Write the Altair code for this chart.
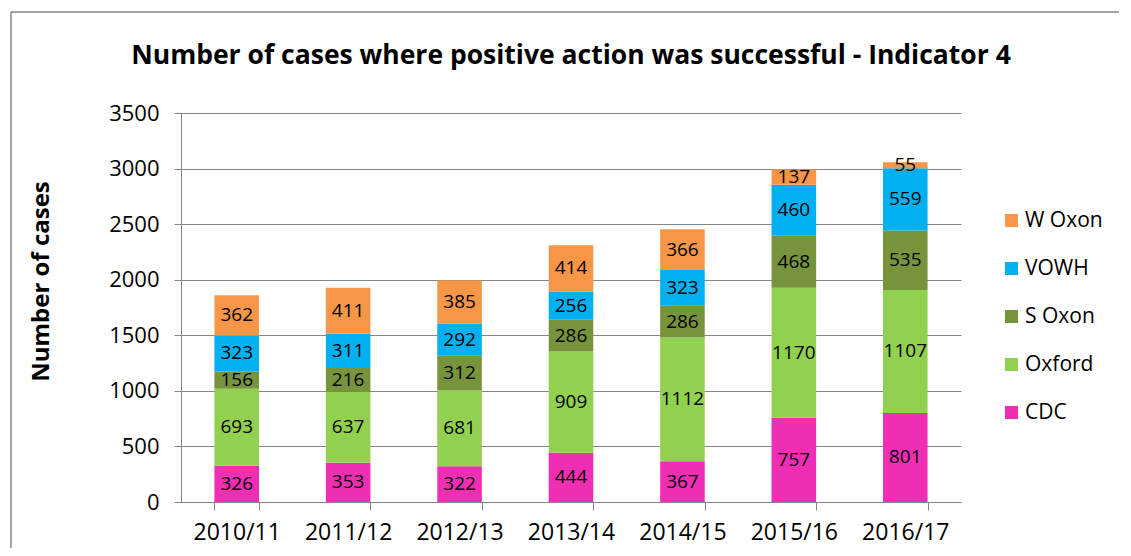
import altair as alt
import pandas as pd

years = ["2010/11", "2011/12", "2012/13", "2013/14", "2014/15", "2015/16", "2016/17"]
series = ["CDC", "Oxford", "S Oxon", "VOWH", "W Oxon"]
cdc = [326, 353, 322, 444, 367, 757, 801]
oxford = [693, 637, 681, 909, 1112, 1170, 1107]
s_oxon = [156, 216, 312, 286, 286, 468, 535]
vowh = [323, 311, 292, 256, 323, 460, 559]
w_oxon = [362, 411, 385, 414, 366, 137, 55]
colors = ["#F02EB4", "#92D050", "#77933C", "#00B0F0", "#F79646"]

vals = [cdc, oxford, s_oxon, vowh, w_oxon]
rows = []
for si, (s, v) in enumerate(zip(series, vals)):
    for y, n in zip(years, v):
        rows.append({"year": y, "series": s, "value": n, "order": si})
df = pd.DataFrame(rows)

FONT = "Open Sans"
GRAY = "#868686"

base = alt.Chart(df).transform_stack(
    stack="value", groupby=["year"], as_=["y0", "y1"],
    sort=[alt.SortField("order", order="ascending")]
).transform_calculate(mid="(datum.y0 + datum.y1) / 2")

x_enc = alt.X("year:N", sort=years, title=None,
              scale=alt.Scale(paddingInner=0.6, paddingOuter=0.3),
              axis=alt.Axis(labelAngle=0, labelFontSize=23, labelColor="#000000",
                            labelFont=FONT, tickBand="extent", tickSize=8,
                            tickColor=GRAY, domainColor=GRAY,
                            labelPadding=11, grid=False))

bars = base.mark_bar().encode(
    x=x_enc,
    y=alt.Y("y0:Q", title="Number of cases",
            scale=alt.Scale(domain=[0, 3500]),
            axis=alt.Axis(values=list(range(0, 3501, 500)), format="d",
                          labelFontSize=22, labelFont=FONT, labelColor="#000000",
                          tickSize=7, tickColor=GRAY, domainColor=GRAY,
                          gridColor=GRAY, labelPadding=15,
                          titleFont=FONT, titleFontSize=24, titleFontWeight="bold",
                          titleColor="#000000", titleX=-140, titleY=168,
                          titleAngle=270, titleAlign="center", titleBaseline="middle")),
    y2="y1:Q",
    color=alt.Color("series:N", sort=series,
                    scale=alt.Scale(domain=series, range=colors),
                    legend=alt.Legend(title=None, orient="none", legendX=820, legendY=97,
                                      labelFontSize=21, labelFont=FONT, labelColor="#000000",
                                      symbolType="square", symbolSize=170,
                                      symbolStrokeWidth=0, rowPadding=26, labelOffset=3,
                                      values=series[::-1])),
)

labels = base.mark_text(fontSize=19, font=FONT, color="#000000").encode(
    x=alt.X("year:N", sort=years),
    y=alt.Y("mid:Q"),
    text="value:Q",
)

# outer chart frame (decoration)
frame_df = pd.DataFrame({"k": [0]})
frame_left = alt.Chart(frame_df).mark_rule(color=GRAY, strokeWidth=1.5).encode(
    x=alt.value(-170), y=alt.value(-101), y2=alt.value(435))
frame_top = alt.Chart(frame_df).mark_rule(color=GRAY, strokeWidth=1.5).encode(
    x=alt.value(-170), x2=alt.value(938), y=alt.value(-101))

chart = alt.layer(bars, labels, frame_left, frame_top).properties(
    width=780, height=389,
    title=alt.Title("Number of cases where positive action was successful - Indicator 4",
                    fontSize=26.5, font=FONT, fontWeight="bold", color="#000000",
                    offset=-58),
    padding={"left": 2, "top": 3, "right": 0, "bottom": 0},
).configure_view(stroke=None).configure_axis(gridWidth=1, domainWidth=1)

chart.save("out.html", embed_options={"renderer": "svg", "actions": False})
